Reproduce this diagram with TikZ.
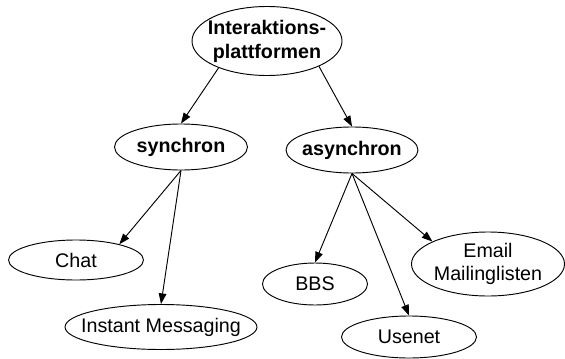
\documentclass[tikz,border=0pt]{standalone}
\usepackage{fontspec}
\setmainfont{Liberation Sans}
\usetikzlibrary{shapes.geometric,arrows.meta}
\tikzset{
  blob/.style={draw,ellipse,line width=0.8pt,inner ysep=0pt,inner xsep=-3.6mm,align=center,
    font=\fontsize{16.8}{19.5}\selectfont},
  fett/.style={font=\fontsize{16.8}{20.5}\selectfont\bfseries},
  pfeil/.style={line width=0.8pt,-{Triangle[length=3.2mm,width=2.3mm]}}
}

\begin{document}
\begin{tikzpicture}[x=0.3mm,y=-0.3mm]
\useasboundingbox (0,0) rectangle (565,358);

\node[blob,fett,minimum width=150*0.3mm,minimum height=69*0.3mm] (plat) at (267,41) {Interaktions-\\plattformen};
\node[blob,fett,minimum width=133*0.3mm,minimum height=46*0.3mm] (syn) at (181,147) {synchron};
\node[blob,fett,minimum width=132*0.3mm,minimum height=46*0.3mm] (asyn) at (352,150) {asynchron};

\node[blob,minimum width=135*0.3mm,minimum height=40*0.3mm] (chat) at (76,260) {Chat};
\node[blob,minimum width=188*0.3mm,minimum height=45*0.3mm] (im) at (161,327) {Instant Messaging};
\node[blob,minimum width=105*0.3mm,minimum height=42*0.3mm] (bbs) at (315,284) {BBS};
\node[blob,minimum width=135*0.3mm,minimum height=42*0.3mm] (usenet) at (409,337) {Usenet};
\node[blob,minimum width=153*0.3mm,minimum height=64*0.3mm] (email) at (488,264) {Email\\Mailinglisten};

% oben
\draw[pfeil] (plat.209) -- (syn.north);
\draw[pfeil] (plat.334) -- (asyn.north);

% synchron
\draw[pfeil] (syn.south) -- (chat.20);
\draw[pfeil] (syn.south) -- (im.north);

% asynchron
\draw[pfeil] (asyn.south) -- (bbs.north);
\draw[pfeil] (asyn.south) -- (usenet.north);
\draw[pfeil] (asyn.south) -- (email.158);
\end{tikzpicture}
\end{document}
